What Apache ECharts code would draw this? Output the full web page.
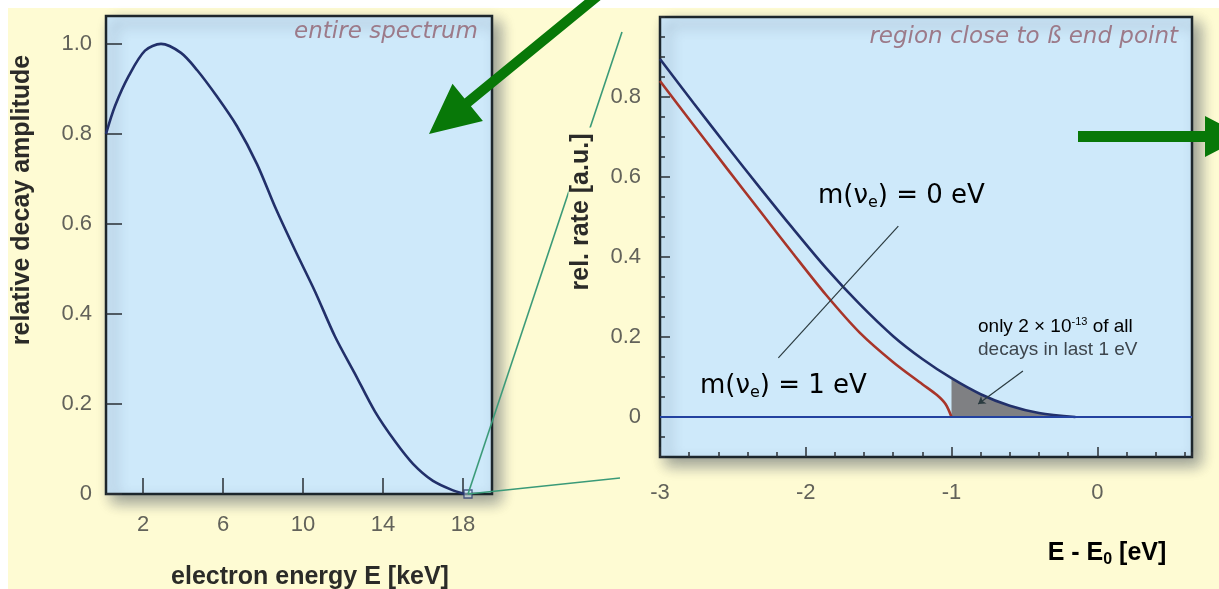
<!DOCTYPE html>
<html>
<head>
<meta charset="utf-8">
<script src="https://cdn.jsdelivr.net/npm/echarts@6/dist/echarts.min.js"></script>
<style>
  html, body { margin: 0; padding: 0; background: #ffffff; }
  #chart { width: 1219px; height: 589px; background: #fefbd3; box-shadow: inset 8px 8px 0 #ffffff; }
</style>
</head>
<body>
<div id="chart"></div>
<script>
// Tritium beta spectrum: full shape (keV) and the last few eV before the end point.
const spectrumEnergy = [0.15, 0.6, 1.3, 2.1, 2.9, 3.9, 4.7, 5.7, 6.7, 7.7, 8.65, 9.6, 10.6, 11.6, 12.6, 13.6, 14.6, 15.5, 16.5, 17.5, 18.1];
const spectrumAmplitude = [0.80, 0.862, 0.93, 0.985, 1.0, 0.98, 0.942, 0.883, 0.817, 0.733, 0.633, 0.542, 0.45, 0.35, 0.267, 0.183, 0.117, 0.067, 0.029, 0.008, 0.0];
const endPointEnergy = 18.25;

const deltaE_m0 = [-3.0, -2.77, -2.54, -2.31, -2.09, -1.86, -1.63, -1.4, -1.2, -1.0, -0.8, -0.6, -0.4, -0.15];
const rate_m0   = [0.895, 0.785, 0.677, 0.571, 0.472, 0.372, 0.282, 0.202, 0.145, 0.097, 0.057, 0.028, 0.010, 0.0];
const deltaE_m1 = [-3.0, -2.77, -2.54, -2.31, -2.09, -1.86, -1.63, -1.4, -1.2, -1.1, -1.04, -1.0];
const rate_m1   = [0.84, 0.73, 0.621, 0.513, 0.41, 0.305, 0.211, 0.137, 0.082, 0.055, 0.032, 0.0];
const lastEvStart = -1.0;

const spectrumTicksX = [2, 6, 10, 14, 18];
const spectrumTicksY = [0, 0.2, 0.4, 0.6, 0.8, 1.0];
const endRegionTicksX = [-3, -2, -1, 0];
const endRegionTicksY = [0, 0.2, 0.4, 0.6, 0.8];

const pairs = (xs, ys) => xs.map((x, i) => [x, ys[i]]);
const shadeX = deltaE_m0.filter(x => x >= lastEvStart);
const shadeY = rate_m0.filter((_, i) => deltaE_m0[i] >= lastEvStart);

const SANS = '"Liberation Sans", Arial, sans-serif';
const WIDE = '"DejaVu Sans", sans-serif';
const NAVY = '#22306a';
const RED = '#a8352a';
const GREEN = '#087808';
const YELLOW = '#fefbd3';
const tickLabel = { color: '#62625a', fontFamily: SANS, fontSize: 22 };
const fmt = v => (v === 0 ? '0' : v.toFixed(1));
const tickLine = { color: '#2a2f35', width: 1.5 };
const noLine = { show: false, onZero: false };

const panel = {
  show: true, backgroundColor: '#cee9fa', borderColor: '#1c262c', borderWidth: 2.5,
  shadowBlur: 14, shadowColor: 'rgba(30,45,70,0.45)', shadowOffsetX: 7, shadowOffsetY: 7
};

const chart = echarts.init(document.getElementById('chart'), null, { renderer: 'canvas' });

chart.setOption({
  animation: false,
  backgroundColor: 'transparent',
  grid: [
    Object.assign({ left: 106, top: 16, width: 386, height: 478 }, panel),
    Object.assign({ left: 660, top: 17, width: 532, height: 440 }, panel)
  ],
  xAxis: [
    { gridIndex: 0, type: 'value', position: 'bottom', min: 0.15, max: 19.45,
      axisLine: noLine, splitLine: { show: false },
      axisTick: { inside: true, length: 16, customValues: spectrumTicksX, lineStyle: tickLine },
      axisLabel: Object.assign({ customValues: spectrumTicksX, margin: 20 }, tickLabel) },
    { gridIndex: 1, type: 'value', position: 'bottom', min: -3, max: 0.65,
      axisLine: noLine, splitLine: { show: false },
      axisTick: { inside: true, length: 10, customValues: endRegionTicksX, lineStyle: tickLine },
      axisLabel: Object.assign({ customValues: endRegionTicksX, margin: 25 }, tickLabel) },
    { gridIndex: 1, type: 'value', position: 'bottom', min: -3, max: 0.65, interval: 0.2,
      axisLine: noLine, splitLine: { show: false },
      axisTick: { inside: true, length: 5, lineStyle: tickLine },
      axisLabel: { show: false } }
  ],
  yAxis: [
    { gridIndex: 0, type: 'value', position: 'left', min: 0, max: 1.062,
      axisLine: noLine, splitLine: { show: false },
      axisTick: { inside: true, length: 16, customValues: spectrumTicksY, lineStyle: tickLine },
      axisLabel: Object.assign({ customValues: spectrumTicksY, margin: 14, formatter: fmt }, tickLabel) },
    { gridIndex: 1, type: 'value', position: 'left', min: -0.1, max: 1.0,
      axisLine: noLine, splitLine: { show: false },
      axisTick: { inside: true, length: 10, customValues: endRegionTicksY, lineStyle: tickLine },
      axisLabel: Object.assign({ customValues: endRegionTicksY, margin: 19, formatter: fmt }, tickLabel) },
    { gridIndex: 1, type: 'value', position: 'left', min: -0.1, max: 1.0, interval: 0.05,
      axisLine: noLine, splitLine: { show: false },
      axisTick: { inside: true, length: 5, lineStyle: tickLine },
      axisLabel: { show: false } }
  ],
  series: [
    { name: 'entire spectrum', type: 'line', xAxisIndex: 0, yAxisIndex: 0,
      data: pairs(spectrumEnergy, spectrumAmplitude), smooth: 0.3,
      showSymbol: false, lineStyle: { color: NAVY, width: 2.6 }, z: 3 },
    { name: 'end point', type: 'scatter', xAxisIndex: 0, yAxisIndex: 0,
      data: [[endPointEnergy, 0]], symbol: 'rect', symbolSize: 8,
      itemStyle: { color: 'rgba(206,233,250,0.6)', borderColor: '#2c3a6e', borderWidth: 1.3 }, z: 4 },
    { name: 'last 1 eV', type: 'line', xAxisIndex: 1, yAxisIndex: 1,
      data: pairs(shadeX, shadeY), smooth: 0.3, showSymbol: false,
      lineStyle: { width: 0 }, areaStyle: { color: '#7f8083', opacity: 1 }, z: 2 },
    { name: 'm = 1 eV', type: 'line', xAxisIndex: 1, yAxisIndex: 1,
      data: pairs(deltaE_m1, rate_m1), smooth: 0.3, showSymbol: false,
      lineStyle: { color: RED, width: 2.6 }, z: 3,
      markLine: {
        silent: true, symbol: 'none', label: { show: false },
        lineStyle: { color: '#2b3b40', width: 1.2, type: 'solid' },
        data: [
          [{ coord: [-2.188, 0.148] }, { coord: [-1.365, 0.477] }],
          [{ coord: [-0.51, 0.115], symbol: 'none' }, { coord: [-0.817, 0.0325], symbol: 'arrow', symbolSize: 7 }]
        ]
      } },
    { name: 'm = 0 eV', type: 'line', xAxisIndex: 1, yAxisIndex: 1,
      data: pairs(deltaE_m0, rate_m0), smooth: 0.3, showSymbol: false,
      lineStyle: { color: NAVY, width: 2.6 }, z: 4,
      markLine: {
        silent: true, symbol: 'none', label: { show: false },
        lineStyle: { color: '#2342a0', width: 2, type: 'solid' },
        data: [{ yAxis: 0 }]
      } }
  ]
});

// Decorations: zoom connectors, pointer arrows, titles and annotations.
const start = chart.convertToPixel({ xAxisIndex: 0, yAxisIndex: 0 }, [endPointEnergy, 0]);

const richMass = (color) => ({
  a: { fontFamily: WIDE, fontSize: 26, color: color, lineHeight: 30 },
  s: { fontFamily: WIDE, fontSize: 16, color: color, lineHeight: 16, verticalAlign: 'bottom' }
});

chart.setOption({
  graphic: [
    { type: 'line', z: 100, shape: { x1: start[0], y1: start[1], x2: 622, y2: 32 },
      style: { stroke: '#3a9a78', lineWidth: 1.6 } },
    { type: 'line', z: 100, shape: { x1: start[0], y1: start[1], x2: 620, y2: 478 },
      style: { stroke: '#3a9a78', lineWidth: 1.6 } },
    { type: 'polygon', z: 102, shape: { points: [[429, 134], [482.9, 121.0], [470.9, 106.3], [603.2, -2.1], [596.8, -9.9], [464.5, 98.5], [452.5, 83.8]] },
      style: { fill: GREEN } },
    { type: 'polygon', z: 102, shape: { points: [[1078, 131], [1205, 131], [1205, 116], [1245, 136.5], [1205, 157], [1205, 142], [1078, 142]] },
      style: { fill: GREEN } },

    { type: 'text', z: 101, x: 22, y: 200, rotation: Math.PI / 2,
      style: { text: 'relative decay amplitude', fontFamily: SANS, fontWeight: 'bold', fontSize: 25, fill: '#2b2b28', align: 'center', verticalAlign: 'middle' } },
    { type: 'text', z: 101, x: 310, y: 577,
      style: { text: 'electron energy E [keV]', fontFamily: SANS, fontWeight: 'bold', fontSize: 25, fill: '#2b2b28', align: 'center', verticalAlign: 'middle' } },
    { type: 'text', z: 101, x: 581, y: 212, rotation: Math.PI / 2,
      style: { text: 'rel. rate [a.u.]', fontFamily: SANS, fontWeight: 'bold', fontSize: 25, fill: '#2b2b28', align: 'center', verticalAlign: 'middle',
               backgroundColor: YELLOW, padding: [0, 6, 0, 6] } },
    { type: 'text', z: 101, x: 1107, y: 553,
      style: { text: '{a|E - E}{s|0}{a| [eV]}', align: 'center', verticalAlign: 'middle',
               rich: { a: { fontFamily: SANS, fontWeight: 'bold', fontSize: 25, color: '#2b2b28', lineHeight: 30 },
                       s: { fontFamily: SANS, fontWeight: 'bold', fontSize: 16, color: '#2b2b28', lineHeight: 18, verticalAlign: 'bottom' } } } },

    { type: 'text', z: 101, x: 478, y: 32,
      style: { text: 'entire spectrum', fontFamily: WIDE, fontStyle: 'italic', fontSize: 23, fill: '#9c7a89', align: 'right', verticalAlign: 'middle' } },
    { type: 'text', z: 101, x: 1178, y: 37,
      style: { text: 'region close to ß end point', fontFamily: WIDE, fontStyle: 'italic', fontSize: 23, fill: '#9c7a89', align: 'right', verticalAlign: 'middle' } },

    { type: 'text', z: 101, x: 818, y: 196,
      style: { text: '{a|m(ν}{s|e}{a|) = 0 eV}', align: 'left', verticalAlign: 'middle', rich: richMass('#2b3f80') } },
    { type: 'text', z: 101, x: 700, y: 386,
      style: { text: '{a|m(ν}{s|e}{a|) = 1 eV}', align: 'left', verticalAlign: 'middle', rich: richMass('#a3352c') } },

    { type: 'text', z: 101, x: 978, y: 327,
      style: { text: '{a|only 2 × 10}{p|-13}{a| of all}', align: 'left', verticalAlign: 'middle',
               rich: { a: { fontFamily: SANS, fontSize: 19, color: '#3d454c', lineHeight: 22 },
                       p: { fontFamily: SANS, fontSize: 11, color: '#3d454c', lineHeight: 12, verticalAlign: 'top' } } } },
    { type: 'text', z: 101, x: 978, y: 350,
      style: { text: 'decays in last 1 eV', fontFamily: SANS, fontSize: 19, fill: '#3d454c', align: 'left', verticalAlign: 'middle' } }
  ]
});
</script>
</body>
</html>
